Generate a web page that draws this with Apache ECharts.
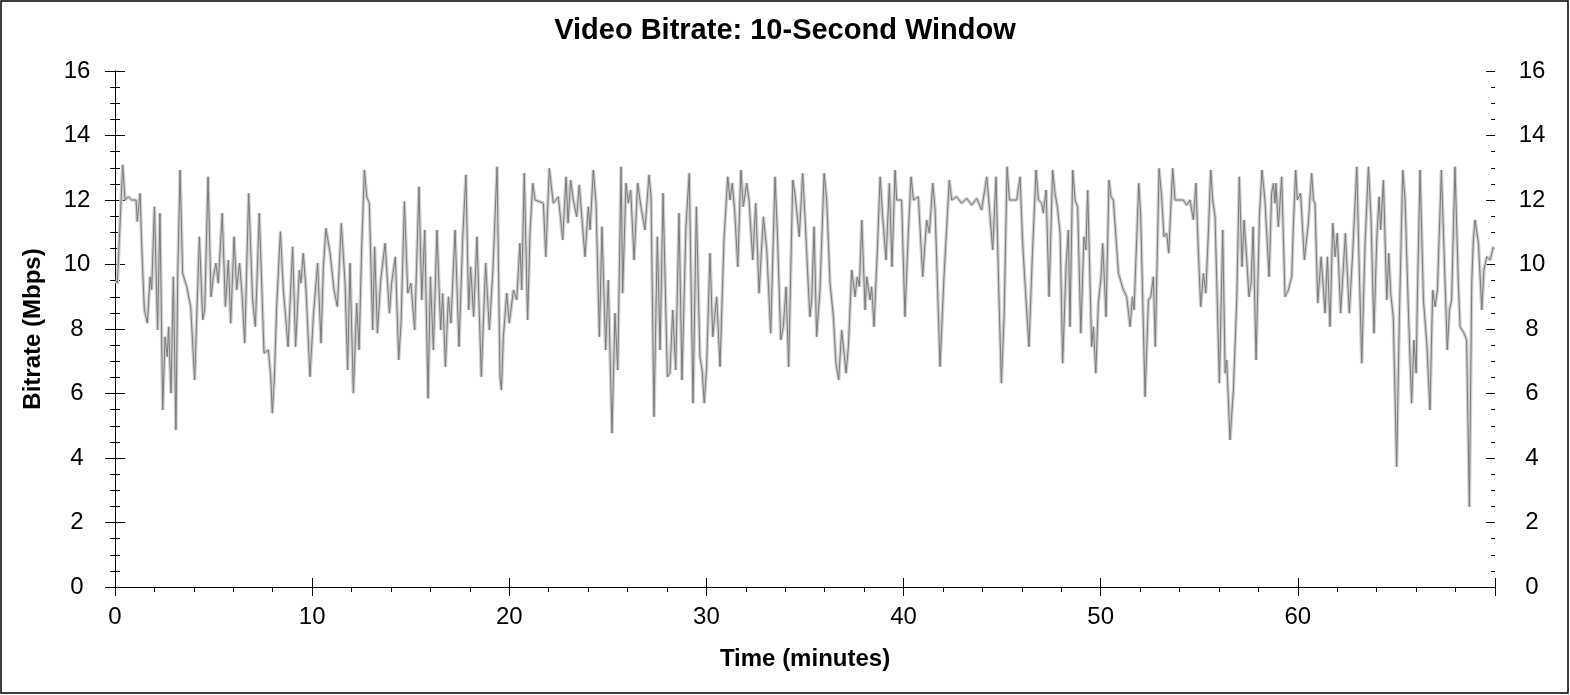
<!DOCTYPE html>
<html>
<head>
<meta charset="utf-8">
<title>Video Bitrate: 10-Second Window</title>
<script src="https://cdn.jsdelivr.net/npm/echarts@6/dist/echarts.min.js"></script>
<style>
  html, body { margin: 0; padding: 0; background: #fff; }
  #bitrate-chart { width: 1570px; height: 695px; }
</style>
</head>
<body>
<div id="bitrate-chart"></div>
<script>
// Datos (minutos, Mbps)
const times = [
  0.05, 0.12, 0.39, 0.51, 0.68, 0.85, 1.07, 1.13, 1.27, 1.37, 1.49, 1.64, 1.78, 1.86, 2.00, 2.16, 2.28, 2.42, 2.54, 2.65,
  2.72, 2.84, 2.96, 3.09, 3.18, 3.30, 3.43, 3.64, 3.84, 4.04, 4.28, 4.45, 4.55, 4.72, 4.87, 4.99, 5.12, 5.24, 5.44, 5.60,
  5.75, 5.87, 6.04, 6.17, 6.32, 6.44, 6.58, 6.78, 6.98, 7.12, 7.32, 7.56, 7.78, 7.90, 7.98, 8.08, 8.20, 8.39, 8.54, 8.78,
  9.01, 9.16, 9.35, 9.43, 9.55, 9.69, 9.89, 10.06, 10.28, 10.45, 10.57, 10.70, 10.91, 11.11, 11.28, 11.48, 11.67, 11.80, 11.92, 12.09,
  12.26, 12.38, 12.51, 12.65, 12.77, 12.90, 13.07, 13.17, 13.31, 13.48, 13.70, 13.92, 14.03, 14.22, 14.39, 14.51, 14.68, 14.85, 15.01, 15.20,
  15.42, 15.56, 15.71, 15.88, 16.00, 16.15, 16.33, 16.52, 16.62, 16.76, 16.91, 17.04, 17.25, 17.45, 17.64, 17.80, 17.94, 18.04, 18.19, 18.36,
  18.58, 18.80, 18.99, 19.17, 19.38, 19.53, 19.60, 19.70, 19.87, 20.00, 20.21, 20.38, 20.54, 20.63, 20.76, 20.93, 21.05, 21.19, 21.31, 21.52,
  21.73, 21.85, 22.03, 22.23, 22.49, 22.71, 22.88, 22.98, 23.11, 23.25, 23.42, 23.55, 23.84, 24.01, 24.10, 24.26, 24.40, 24.57, 24.70, 24.89,
  25.02, 25.21, 25.36, 25.50, 25.67, 25.75, 25.92, 26.04, 26.16, 26.33, 26.51, 26.68, 26.88, 27.09, 27.19, 27.34, 27.51, 27.65, 27.80, 28.02,
  28.15, 28.29, 28.44, 28.61, 28.76, 28.96, 29.13, 29.32, 29.49, 29.67, 29.78, 29.89, 30.01, 30.18, 30.32, 30.52, 30.69, 30.89, 31.08, 31.20,
  31.31, 31.43, 31.59, 31.75, 31.87, 32.04, 32.16, 32.35, 32.50, 32.67, 32.89, 33.06, 33.26, 33.48, 33.60, 33.77, 33.90, 34.04, 34.17, 34.38,
  34.49, 34.71, 34.88, 35.00, 35.17, 35.25, 35.34, 35.46, 35.59, 35.76, 35.97, 36.10, 36.27, 36.44, 36.57, 36.71, 36.86, 37.00, 37.08, 37.20,
  37.37, 37.54, 37.65, 37.76, 37.88, 38.05, 38.13, 38.30, 38.38, 38.50, 38.67, 38.81, 38.94, 39.11, 39.28, 39.41, 39.57, 39.65, 39.90, 40.07,
  40.24, 40.38, 40.50, 40.75, 40.97, 41.17, 41.31, 41.48, 41.60, 41.85, 42.05, 42.32, 42.44, 42.69, 42.95, 43.20, 43.46, 43.71, 43.96, 44.22,
  44.39, 44.52, 44.69, 44.82, 44.96, 45.10, 45.25, 45.37, 45.74, 45.91, 46.04, 46.16, 46.36, 46.53, 46.72, 46.84, 47.01, 47.09, 47.23, 47.38,
  47.56, 47.68, 47.80, 47.94, 48.07, 48.24, 48.36, 48.44, 48.58, 48.70, 48.83, 48.99, 49.15, 49.25, 49.34, 49.54, 49.63, 49.75, 49.88, 50.02,
  50.10, 50.27, 50.42, 50.52, 50.64, 50.90, 51.15, 51.32, 51.49, 51.61, 51.69, 51.93, 52.03, 52.25, 52.42, 52.54, 52.67, 52.77, 52.96, 53.09,
  53.21, 53.35, 53.45, 53.52, 53.65, 53.77, 54.19, 54.36, 54.53, 54.70, 54.83, 54.95, 55.07, 55.21, 55.33, 55.46, 55.58, 55.68, 55.80, 56.02,
  56.19, 56.31, 56.39, 56.56, 56.73, 56.90, 57.03, 57.17, 57.27, 57.41, 57.52, 57.63, 57.73, 57.88, 58.05, 58.18, 58.33, 58.54, 58.67, 58.76,
  58.84, 58.89, 59.01, 59.18, 59.35, 59.52, 59.60, 59.69, 59.77, 59.89, 59.97, 60.14, 60.33, 60.53, 60.70, 60.79, 60.87, 61.01, 61.18, 61.38,
  61.50, 61.63, 61.77, 61.89, 62.00, 62.17, 62.41, 62.61, 62.78, 62.99, 63.09, 63.24, 63.41, 63.58, 63.71, 63.86, 64.00, 64.12, 64.20, 64.34,
  64.51, 64.61, 64.71, 64.84, 65.01, 65.15, 65.32, 65.44, 65.61, 65.77, 65.89, 66.00, 66.06, 66.20, 66.37, 66.54, 66.70, 66.84, 66.96, 67.08,
  67.28, 67.43, 67.58, 67.69, 67.80, 67.97, 68.14, 68.23, 68.43, 68.56, 68.70, 68.82, 68.90, 68.99, 69.16, 69.33, 69.44, 69.58, 69.75, 69.92
];

const bitrate = [
  9.50, 9.42, 13.09, 12.00, 12.10, 12.00, 12.00, 11.33, 12.21, 10.35, 8.59, 8.18, 9.62, 9.21, 11.79, 7.97, 11.59, 5.49, 7.76, 7.14,
  8.07, 6.01, 9.62, 4.87, 9.62, 12.93, 9.73, 9.31, 8.69, 6.42, 10.86, 8.28, 8.59, 12.72, 9.00, 9.62, 10.04, 9.42, 11.59, 8.69,
  10.14, 8.18, 10.86, 9.21, 10.04, 9.11, 7.56, 12.21, 8.90, 8.07, 11.59, 7.25, 7.35, 6.52, 5.39, 6.42, 8.69, 11.02, 9.21, 7.45,
  10.55, 7.45, 9.83, 9.42, 10.35, 9.21, 6.52, 8.38, 10.04, 7.56, 9.93, 11.12, 10.35, 9.21, 8.69, 11.28, 9.42, 6.73, 10.04, 6.01,
  8.80, 7.35, 10.45, 12.93, 12.10, 11.90, 7.97, 10.55, 7.87, 9.52, 10.66, 8.49, 9.42, 10.24, 7.04, 8.18, 11.95, 9.11, 9.42, 7.97,
  12.41, 8.90, 11.07, 5.85, 9.62, 7.35, 11.07, 7.97, 9.11, 6.83, 9.00, 8.18, 11.07, 7.45, 10.86, 12.78, 8.59, 9.93, 8.38, 10.86,
  6.52, 10.04, 7.97, 9.83, 13.03, 6.52, 6.11, 7.76, 9.11, 8.18, 9.21, 8.90, 10.66, 9.21, 12.83, 8.28, 10.97, 12.52, 12.00, 11.95,
  11.90, 10.24, 12.98, 11.90, 12.10, 10.76, 12.72, 11.28, 12.62, 12.00, 11.48, 12.47, 10.24, 11.79, 11.07, 12.93, 11.90, 7.76, 11.17, 7.35,
  9.52, 4.77, 8.49, 6.73, 13.03, 9.11, 12.52, 11.90, 12.31, 10.14, 12.52, 11.79, 11.07, 12.78, 12.10, 5.28, 10.86, 7.35, 12.21, 6.52,
  6.63, 8.59, 6.73, 11.59, 6.42, 11.17, 12.83, 5.70, 11.79, 7.14, 6.73, 5.70, 6.83, 10.35, 7.76, 9.00, 6.83, 10.76, 12.72, 12.00,
  12.52, 11.69, 9.93, 12.93, 11.79, 12.52, 12.00, 10.14, 11.90, 9.11, 11.48, 10.45, 7.87, 12.72, 10.97, 7.66, 8.07, 9.31, 6.83, 12.62,
  12.21, 10.86, 12.83, 11.48, 9.31, 8.38, 8.90, 11.17, 7.76, 9.21, 12.83, 12.00, 9.42, 8.38, 6.94, 6.42, 7.97, 7.14, 6.63, 7.45,
  9.83, 9.00, 9.62, 9.31, 11.38, 8.59, 9.62, 8.90, 9.31, 8.07, 10.45, 12.72, 11.48, 10.14, 12.52, 9.93, 12.93, 12.00, 12.00, 8.38,
  10.97, 12.72, 12.00, 12.10, 9.62, 11.38, 10.97, 12.52, 11.69, 6.83, 9.62, 12.62, 12.00, 12.10, 11.90, 12.05, 11.84, 12.05, 11.69, 12.72,
  11.48, 10.45, 12.72, 9.42, 6.32, 8.38, 13.03, 12.00, 12.00, 12.72, 10.66, 9.42, 7.45, 10.24, 12.93, 12.00, 11.90, 11.59, 12.31, 9.00,
  12.93, 12.21, 11.79, 10.97, 6.94, 9.93, 11.07, 8.07, 12.93, 12.00, 11.79, 7.87, 10.86, 10.45, 12.31, 7.45, 8.07, 6.63, 8.80, 9.62,
  10.66, 8.38, 12.62, 12.10, 12.00, 9.73, 9.21, 9.00, 8.07, 9.00, 8.59, 12.52, 11.48, 5.90, 8.90, 9.00, 9.62, 7.45, 12.98, 12.10,
  10.86, 10.97, 10.35, 11.28, 12.98, 12.00, 12.00, 11.84, 12.00, 11.38, 12.52, 10.45, 8.69, 9.73, 9.11, 10.97, 12.93, 12.00, 11.48, 6.32,
  11.07, 6.63, 7.04, 4.56, 6.11, 8.90, 12.72, 9.93, 11.38, 10.14, 9.00, 9.42, 11.17, 7.04, 11.48, 12.93, 12.00, 9.62, 12.21, 12.52,
  11.90, 12.52, 11.17, 12.72, 9.00, 9.21, 9.42, 9.62, 11.17, 12.93, 12.00, 12.21, 10.14, 11.28, 12.83, 12.00, 11.90, 8.80, 10.24, 8.49,
  10.24, 8.07, 11.28, 10.24, 10.97, 8.49, 10.97, 8.49, 10.35, 13.03, 10.45, 6.94, 10.66, 13.03, 11.48, 7.87, 10.76, 12.10, 11.07, 12.62,
  8.90, 10.35, 9.11, 8.38, 3.73, 8.38, 12.93, 12.00, 8.49, 5.70, 7.66, 6.63, 8.90, 12.93, 8.90, 7.56, 5.49, 9.21, 8.69, 9.21,
  12.93, 10.14, 7.35, 8.59, 8.90, 13.03, 9.42, 8.07, 7.87, 7.66, 2.49, 9.42, 10.76, 11.38, 10.66, 8.59, 9.83, 10.24, 10.14, 10.55
];

// Rango de los ejes
const xMin = 0, xMax = 70, xStep = 10;
const yMin = 0, yMax = 16, yStep = 2;

const FONT = "'Liberation Sans', Arial, sans-serif";

function initBitrateChart() {
    const chart = echarts.init(document.getElementById('bitrate-chart'), null, { renderer: 'canvas' });
    const points = times.map((t, i) => [t, bitrate[i]]);
    const black = { color: '#000', width: 1 };

    const option = {
        animation: false,
        backgroundColor: '#fff',
        title: {
            text: 'Video Bitrate: 10-Second Window',
            left: 'center',
            top: 16,
            padding: 0,
            textStyle: { fontFamily: FONT, fontSize: 29, fontWeight: 'bold', color: '#000' }
        },
        grid: {
            left: 115,
            right: 75,
            top: 71,
            bottom: 108,
            containLabel: false,
            outerBoundsMode: 'none'
        },
        xAxis: [
            {
                // eje inferior: etiquetas y marcas mayores hacia dentro
                type: 'value', position: 'bottom',
                min: xMin, max: xMax, interval: xStep,
                axisLine: { show: true, lineStyle: black },
                axisTick: { show: true, inside: true, length: 9, lineStyle: black },
                axisLabel: {
                    fontFamily: FONT, fontSize: 24, color: '#000', margin: 18,
                    formatter: v => (v === xMax ? '' : String(v))
                },
                splitLine: { show: false },
                name: 'Time (minutes)',
                nameLocation: 'middle',
                nameGap: 60,
                nameTextStyle: { fontFamily: FONT, fontSize: 24, fontWeight: 'bold', color: '#000' }
            },
            {
                // marcas menores hacia fuera
                type: 'value', position: 'bottom',
                min: xMin, max: xMax, interval: 2,
                axisLine: { show: false },
                axisTick: { show: true, inside: false, length: 5, lineStyle: black },
                axisLabel: { show: false },
                splitLine: { show: false }
            },
            {
                // eje superior
                type: 'value', position: 'top',
                min: xMin, max: xMax, interval: xStep,
                axisLine: { show: true, lineStyle: black },
                axisTick: { show: true, inside: true, length: 9, lineStyle: black },
                minorTick: { show: true, splitNumber: 5, length: 4, lineStyle: black },
                axisLabel: { show: false },
                splitLine: { show: false }
            }
        ],
        yAxis: [
            {
                type: 'value', position: 'left',
                min: yMin, max: yMax, interval: yStep,
                axisLine: { show: true, lineStyle: black },
                axisTick: { show: true, inside: false, length: 10, lineStyle: black },
                minorTick: { show: true, splitNumber: 4, length: 5, lineStyle: black },
                axisLabel: { fontFamily: FONT, fontSize: 24, color: '#000', margin: 38, align: 'center' },
                splitLine: { show: false },
                name: 'Bitrate (Mbps)',
                nameLocation: 'middle',
                nameGap: 70,
                nameRotate: 90,
                nameTextStyle: { fontFamily: FONT, fontSize: 24, fontWeight: 'bold', color: '#000' }
            },
            {
                type: 'value', position: 'left',
                min: yMin, max: yMax, interval: yStep,
                axisLine: { show: false },
                axisTick: { show: true, inside: true, length: 9, lineStyle: black },
                minorTick: { show: true, splitNumber: 4, length: 4, lineStyle: black },
                axisLabel: { show: false },
                splitLine: { show: false }
            },
            {
                type: 'value', position: 'right',
                min: yMin, max: yMax, interval: yStep,
                axisLine: { show: true, lineStyle: black },
                axisTick: { show: true, inside: false, length: 10, lineStyle: black },
                minorTick: { show: true, splitNumber: 4, length: 5, lineStyle: black },
                axisLabel: { fontFamily: FONT, fontSize: 24, color: '#000', margin: 37, align: 'center' },
                splitLine: { show: false }
            },
            {
                type: 'value', position: 'right',
                min: yMin, max: yMax, interval: yStep,
                axisLine: { show: false },
                axisTick: { show: true, inside: true, length: 9, lineStyle: black },
                minorTick: { show: true, splitNumber: 4, length: 4, lineStyle: black },
                axisLabel: { show: false },
                splitLine: { show: false }
            }
        ],
        series: [
            {
                // banda gris clara
                name: 'envelope',
                type: 'line',
                xAxisIndex: 0, yAxisIndex: 0,
                data: points,
                symbol: 'none',
                silent: true,
                z: 2,
                lineStyle: { color: '#d0d0d0', width: 3.5 }
            },
            {
                name: 'Bitrate',
                type: 'line',
                xAxisIndex: 0, yAxisIndex: 0,
                data: points,
                symbol: 'none',
                silent: true,
                z: 3,
                lineStyle: { color: '#7a7a7a', width: 1 }
            }
        ],
        graphic: [
            {
                // marco exterior
                type: 'rect',
                silent: true,
                shape: { x: 1, y: 1, width: 1567, height: 692 },
                style: { fill: 'none', stroke: '#000', lineWidth: 1.5 }
            }
        ]
    };

    chart.setOption(option);
    return chart;
}

window.bitrateChart = initBitrateChart();
</script>
</body>
</html>
